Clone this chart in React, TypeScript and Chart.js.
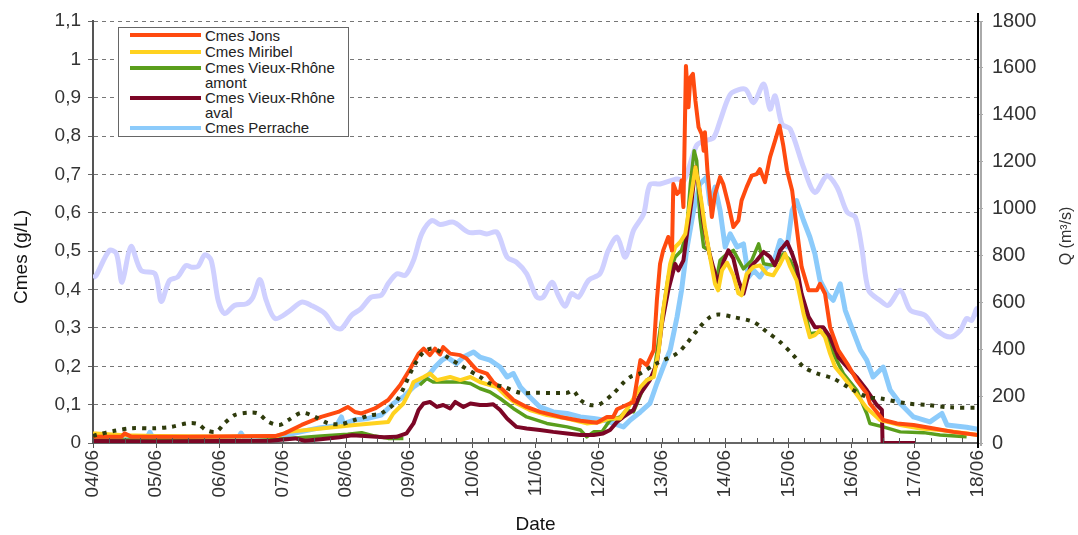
import React, { useEffect, useRef } from 'react';
import { Chart, registerables } from 'chart.js';

Chart.register(...registerables);

// ---------- DATA ----------
// x = days since 04/06 00:00
const xTickLabels = ['04/06', '05/06', '06/06', '07/06', '08/06', '09/06', '10/06', '11/06', '12/06', '13/06', '14/06', '15/06', '16/06', '17/06', '18/06'];
const yTickLabels = ['0', '0,1', '0,2', '0,3', '0,4', '0,5', '0,6', '0,7', '0,8', '0,9', '1', '1,1'];
const yTickValues = [0, 0.1, 0.2, 0.3, 0.4, 0.5, 0.6, 0.7, 0.8, 0.9, 1.0, 1.1];
const qTickValues = [0, 200, 400, 600, 800, 1000, 1200, 1400, 1600, 1800];

const seriesNames = ['Cmes Jons', 'Cmes Miribel', 'Cmes Vieux-Rhône amont', 'Cmes Vieux-Rhône aval', 'Cmes Perrache'];

// Cmes Jons (g/L)
const cmesJons = [[0,0.016],[0.05,0.016],[0.45,0.016],[0.5,0.025],[0.61,0.016],[1.5,0.016],[2.88,0.018],[3.03,0.025],[3.3,0.047],[3.61,0.068],[3.88,0.081],[4.03,0.094],[4.14,0.081],[4.25,0.077],[4.46,0.09],[4.67,0.112],[4.86,0.151],[5.02,0.194],[5.15,0.233],[5.23,0.246],[5.33,0.229],[5.41,0.246],[5.49,0.231],[5.54,0.25],[5.65,0.233],[5.81,0.229],[5.91,0.22],[6.07,0.19],[6.23,0.181],[6.33,0.159],[6.49,0.138],[6.65,0.112],[6.86,0.094],[7.07,0.081],[7.39,0.068],[7.71,0.058],[7.97,0.053],[8.13,0.068],[8.23,0.068],[8.29,0.088],[8.44,0.099],[8.55,0.107],[8.66,0.216],[8.76,0.203],[8.87,0.242],[8.92,0.372],[8.97,0.467],[9.02,0.502],[9.1,0.537],[9.16,0.502],[9.18,0.675],[9.24,0.649],[9.29,0.658],[9.31,0.684],[9.34,0.615],[9.38,0.983],[9.42,0.875],[9.45,0.953],[9.49,0.962],[9.53,0.892],[9.58,0.823],[9.63,0.805],[9.66,0.762],[9.68,0.81],[9.72,0.71],[9.79,0.589],[9.84,0.649],[9.92,0.693],[9.97,0.675],[10.05,0.623],[10.13,0.563],[10.21,0.58],[10.26,0.632],[10.34,0.667],[10.42,0.697],[10.5,0.701],[10.55,0.714],[10.63,0.68],[10.71,0.745],[10.79,0.788],[10.86,0.827],[10.92,0.775],[10.98,0.71],[11.06,0.658],[11.13,0.563],[11.21,0.459],[11.32,0.398],[11.45,0.398],[11.5,0.415],[11.58,0.389],[11.66,0.302],[11.79,0.242],[11.93,0.207],[12.08,0.164],[12.24,0.129],[12.29,0.103],[12.5,0.06],[12.72,0.051],[12.98,0.047],[13.3,0.038],[13.61,0.029],[14,0.021]];

// Cmes Miribel (g/L)
const cmesMiribel = [[0,0.025],[0.05,0.025],[0.5,0.02],[1,0.018],[2,0.017],[2.9,0.018],[3.09,0.029],[3.61,0.038],[4.14,0.047],[4.67,0.055],[4.75,0.077],[4.91,0.103],[5.02,0.138],[5.07,0.159],[5.23,0.172],[5.33,0.181],[5.44,0.164],[5.65,0.172],[5.81,0.164],[5.97,0.172],[6.12,0.159],[6.28,0.151],[6.39,0.146],[6.55,0.12],[6.7,0.103],[6.91,0.086],[7.18,0.073],[7.5,0.064],[7.81,0.051],[8.02,0.055],[8.18,0.064],[8.34,0.064],[8.47,0.094],[8.66,0.146],[8.76,0.164],[8.87,0.172],[8.95,0.242],[9.02,0.346],[9.13,0.467],[9.21,0.511],[9.29,0.524],[9.37,0.545],[9.45,0.632],[9.53,0.719],[9.58,0.675],[9.63,0.623],[9.68,0.563],[9.76,0.485],[9.84,0.415],[9.89,0.398],[9.95,0.45],[10.03,0.47],[10.13,0.437],[10.21,0.39],[10.26,0.385],[10.34,0.441],[10.45,0.459],[10.55,0.463],[10.66,0.441],[10.76,0.437],[10.87,0.467],[10.95,0.493],[11.03,0.459],[11.13,0.424],[11.24,0.337],[11.34,0.276],[11.42,0.281],[11.5,0.294],[11.58,0.276],[11.66,0.233],[11.74,0.198],[11.87,0.172],[12.03,0.138],[12.24,0.091],[12.45,0.06],[12.77,0.047],[13.09,0.038],[13.4,0.034],[13.82,0.025],[14,0.021]];

// Cmes Vieux-Rhône amont (g/L) — null = missing data
const cmesVRAmont = [[0,0.008],[1.5,0.008],[2.56,0.006],[3.09,0.012],[3.61,0.018],[4.03,0.023],[4.25,0.027],[4.46,0.018],[4.67,0.012],[4.91,0.012],[4.95,null],[5.17,0.151],[5.28,0.168],[5.38,0.159],[5.6,0.159],[5.81,0.159],[5.97,0.155],[6.12,0.142],[6.28,0.133],[6.44,0.116],[6.65,0.09],[6.86,0.068],[7.18,0.051],[7.5,0.042],[7.71,0.034],[7.81,0.016],[7.92,0.029],[8.05,0.029],[8.18,0.06],[8.34,0.068],[8.44,0.086],[8.55,0.081],[8.76,0.164],[8.87,0.177],[8.97,0.294],[9.1,0.433],[9.21,0.485],[9.31,0.502],[9.39,0.55],[9.45,0.675],[9.51,0.762],[9.55,0.736],[9.6,0.589],[9.66,0.511],[9.74,0.502],[9.81,0.45],[9.87,0.433],[9.92,0.476],[10.03,0.493],[10.13,0.502],[10.29,0.454],[10.42,0.476],[10.53,0.519],[10.61,0.467],[10.76,0.463],[10.92,0.493],[11.03,0.476],[11.13,0.441],[11.24,0.363],[11.34,0.285],[11.5,0.289],[11.61,0.285],[11.71,0.233],[11.87,0.181],[12.08,0.138],[12.24,0.077],[12.29,0.051],[12.5,0.042],[12.77,0.029],[13.14,0.027],[13.4,0.021],[13.82,0.016]];

// Cmes Vieux-Rhône aval (g/L)
const cmesVRAval = [[0,0.005],[1,0.004],[2,0.005],[2.8,0.006],[3.2,0.012],[3.35,0.006],[3.6,0.01],[3.9,0.015],[4.1,0.02],[4.3,0.018],[4.6,0.015],[4.8,0.016],[4.96,0.025],[5.07,0.051],[5.15,0.086],[5.23,0.103],[5.33,0.107],[5.44,0.094],[5.54,0.099],[5.65,0.09],[5.73,0.107],[5.86,0.094],[5.97,0.103],[6.12,0.099],[6.23,0.099],[6.33,0.101],[6.44,0.086],[6.55,0.064],[6.7,0.042],[6.86,0.038],[7.07,0.034],[7.28,0.029],[7.5,0.025],[7.71,0.021],[7.92,0.021],[8.07,0.025],[8.18,0.034],[8.29,0.055],[8.39,0.068],[8.55,0.086],[8.66,0.129],[8.81,0.164],[8.92,0.207],[9.0,0.311],[9.1,0.398],[9.21,0.467],[9.26,0.45],[9.34,0.476],[9.39,0.537],[9.47,0.632],[9.53,0.719],[9.58,0.675],[9.66,0.571],[9.74,0.502],[9.81,0.459],[9.89,0.415],[9.97,0.471],[10.05,0.502],[10.13,0.481],[10.21,0.424],[10.29,0.389],[10.4,0.459],[10.5,0.476],[10.61,0.498],[10.71,0.485],[10.79,0.463],[10.87,0.502],[10.98,0.524],[11.06,0.493],[11.13,0.459],[11.21,0.389],[11.32,0.329],[11.42,0.302],[11.55,0.302],[11.66,0.276],[11.79,0.224],[11.93,0.198],[12.08,0.172],[12.24,0.138],[12.4,0.099],[12.48,0.086],[12.49,0],[13.01,0]];

// Cmes Perrache (g/L)
const cmesPerrache = [[0,0.01],[0.85,0.012],[0.9,0.028],[0.95,0.012],[2.3,0.012],[2.34,0.026],[2.4,0.012],[2.9,0.015],[3.3,0.03],[3.6,0.04],[3.85,0.045],[3.93,0.068],[3.96,0.05],[4.14,0.06],[4.35,0.064],[4.56,0.073],[4.75,0.103],[4.91,0.12],[5.07,0.146],[5.23,0.164],[5.33,0.181],[5.41,0.198],[5.52,0.216],[5.6,0.224],[5.75,0.207],[5.86,0.224],[6.02,0.237],[6.12,0.224],[6.28,0.216],[6.44,0.198],[6.55,0.172],[6.65,0.181],[6.76,0.146],[6.91,0.12],[7.07,0.094],[7.28,0.081],[7.5,0.077],[7.71,0.068],[7.92,0.064],[8.07,0.06],[8.23,0.051],[8.39,0.042],[8.5,0.06],[8.66,0.081],[8.81,0.103],[8.92,0.155],[9.02,0.198],[9.13,0.242],[9.24,0.329],[9.31,0.398],[9.39,0.502],[9.5,0.606],[9.6,0.675],[9.71,0.693],[9.76,0.623],[9.84,0.667],[9.92,0.606],[10.0,0.511],[10.08,0.545],[10.19,0.511],[10.29,0.519],[10.37,0.433],[10.45,0.45],[10.55,0.433],[10.66,0.459],[10.76,0.467],[10.87,0.528],[10.98,0.511],[11.06,0.606],[11.13,0.632],[11.24,0.58],[11.34,0.537],[11.42,0.493],[11.5,0.424],[11.61,0.389],[11.71,0.372],[11.82,0.415],[11.9,0.346],[12.0,0.302],[12.14,0.242],[12.24,0.216],[12.34,0.172],[12.5,0.198],[12.61,0.138],[12.77,0.103],[12.98,0.068],[13.24,0.055],[13.43,0.077],[13.51,0.047],[13.82,0.041],[14,0.036]];

// Discharge Q (m3/s), right axis — light lavender curve
const qMain = [[0,705],[0.05,715],[0.26,821],[0.37,808],[0.46,686],[0.6,838],[0.76,736],[0.98,722],[1.08,604],[1.21,694],[1.34,708],[1.47,757],[1.56,750],[1.66,753],[1.77,803],[1.87,779],[1.98,608],[2.08,552],[2.24,587],[2.43,594],[2.53,622],[2.64,697],[2.74,608],[2.88,531],[3.09,559],[3.3,601],[3.45,587],[3.67,552],[3.82,495],[3.93,488],[4.09,545],[4.24,573],[4.4,622],[4.56,630],[4.67,680],[4.81,722],[4.94,715],[5.07,779],[5.2,892],[5.36,949],[5.49,932],[5.7,942],[5.94,899],[6.12,899],[6.23,892],[6.39,899],[6.55,793],[6.7,771],[6.86,722],[7.02,622],[7.12,622],[7.26,686],[7.36,630],[7.47,583],[7.57,637],[7.68,622],[7.84,694],[8.02,722],[8.15,821],[8.29,878],[8.42,793],[8.55,906],[8.71,977],[8.81,1102],[8.97,1105],[9.24,1126],[9.35,1119],[9.55,1270],[9.7,1290],[9.82,1303],[9.92,1374],[10.03,1459],[10.11,1495],[10.32,1509],[10.45,1452],[10.61,1531],[10.71,1424],[10.79,1481],[10.9,1360],[11.03,1339],[11.24,1176],[11.42,1069],[11.61,1140],[11.77,1091],[11.93,984],[12.06,963],[12.16,835],[12.27,651],[12.45,608],[12.58,587],[12.77,651],[12.93,566],[13.16,545],[13.35,481],[13.56,452],[13.72,481],[13.82,531],[13.9,523],[13.98,573],[14,540]];

// Discharge Q (m3/s), right axis — dark dotted curve
const qSecond = [[0,30],[0.05,34],[0.34,52],[0.61,63],[0.98,63],[1.24,69],[1.5,84],[1.66,81],[1.79,55],[1.95,48],[2.08,84],[2.24,119],[2.45,129],[2.61,126],[2.77,91],[2.95,77],[3.09,98],[3.3,129],[3.51,112],[3.72,84],[3.93,81],[4.14,98],[4.4,119],[4.56,126],[4.81,183],[5.07,325],[5.23,388],[5.39,403],[5.6,367],[5.81,332],[6.12,282],[6.28,254],[6.49,240],[6.76,214],[7.02,214],[7.5,214],[7.6,223],[7.71,183],[7.86,162],[8.02,166],[8.23,211],[8.39,257],[8.5,282],[8.66,297],[8.89,336],[9.24,382],[9.39,424],[9.6,495],[9.76,537],[9.89,548],[10.13,537],[10.45,516],[10.66,474],[10.87,431],[11.08,374],[11.24,325],[11.45,297],[11.71,275],[11.98,233],[12.24,197],[12.45,190],[12.87,169],[13.19,162],[13.56,152],[14,150]];

// ---------- STYLE ----------
const FONT = '"Liberation Sans", Arial, Helvetica, sans-serif';
const colors = {
  jons: '#ff4a0f',
  miribel: '#ffd21f',
  amont: '#5a9e1c',
  aval: '#7c0626',
  perrache: '#8ccbfb',
  qMain: '#cfd0ff',
  qSecond: '#2f3b0c',
};

const toPts = (arr: (number | null)[][]) => arr.map(([x, y]) => ({ x: x as number, y }));

const decorPlugin = {
  id: 'decor',
  afterDraw(chart: any) {
    const { ctx, chartArea, scales } = chart;
    const xs = scales.x;
    ctx.save();
    // minor 6-hour ticks
    ctx.strokeStyle = '#555';
    ctx.lineWidth = 1;
    for (let i = 0; i <= 56; i++) {
      const px = Math.round(xs.getPixelForValue(i / 4)) + 0.5;
      ctx.beginPath();
      ctx.moveTo(px, chartArea.bottom - 5);
      ctx.lineTo(px, chartArea.bottom);
      ctx.stroke();
    }
    // right double line
    ctx.lineWidth = 2;
    ctx.strokeStyle = '#000';
    ctx.beginPath();
    ctx.moveTo(chartArea.right, chartArea.top - 8);
    ctx.lineTo(chartArea.right, chartArea.bottom + 5);
    ctx.stroke();
    ctx.strokeStyle = '#aaa';
    ctx.beginPath();
    ctx.moveTo(chartArea.right + 3, chartArea.top);
    ctx.lineTo(chartArea.right + 3, chartArea.bottom + 3);
    ctx.stroke();
    // axis titles
    ctx.fillStyle = '#111';
    ctx.textAlign = 'center';
    ctx.textBaseline = 'middle';
    ctx.font = `19px ${FONT}`;
    ctx.fillText('Date', (chartArea.left + chartArea.right) / 2, 525);
    ctx.save();
    ctx.translate(22, 257);
    ctx.rotate(-Math.PI / 2);
    ctx.fillText('Cmes (g/L)', 0, 0);
    ctx.restore();
    ctx.save();
    ctx.fillStyle = '#333';
    ctx.font = `16px ${FONT}`;
    ctx.translate(1067, 236);
    ctx.rotate(-Math.PI / 2);
    ctx.fillText('Q (m³/s)', 0, 0);
    ctx.restore();
    ctx.restore();
  },
};

const legendItems = [
  { lines: ['Cmes Jons'], color: colors.jons, top: -0.5 },
  { lines: ['Cmes Miribel'], color: colors.miribel, top: 16 },
  { lines: ['Cmes Vieux-Rhône', 'amont'], color: colors.amont, top: 32 },
  { lines: ['Cmes Vieux-Rhône', 'aval'], color: colors.aval, top: 62 },
  { lines: ['Cmes Perrache'], color: colors.perrache, top: 92 },
];

export default function App() {
  const canvasRef = useRef<HTMLCanvasElement | null>(null);

  useEffect(() => {
    const canvas = canvasRef.current;
    if (!canvas) return;
    const line = (label: string, data: any, color: string, width: number, order: number, axis: string, extra: any = {}) => ({
      label,
      data: toPts(data),
      borderColor: color,
      backgroundColor: color,
      borderWidth: width,
      pointRadius: 0,
      pointHoverRadius: 0,
      fill: false,
      tension: 0,
      spanGaps: false,
      order,
      yAxisID: axis,
      borderJoinStyle: 'round',
      borderCapStyle: 'butt',
      ...extra,
    });

    const chart = new Chart(canvas, {
      type: 'line',
      data: {
        datasets: [
          line(seriesNames[0], cmesJons, colors.jons, 4, 1, 'y'),
          line(seriesNames[1], cmesMiribel, colors.miribel, 4, 2, 'y'),
          line(seriesNames[3], cmesVRAval, colors.aval, 4, 3, 'y'),
          line(seriesNames[2], cmesVRAmont, colors.amont, 3.5, 4, 'y'),
          line('Q 2', qSecond, colors.qSecond, 4, 0, 'y1', { borderDash: [4, 6], tension: 0.3, borderCapStyle: 'butt' }),
          line(seriesNames[4], cmesPerrache, colors.perrache, 5, 6, 'y'),
          line('Q', qMain, colors.qMain, 5, 7, 'y1', { tension: 0.3 }),
        ],
      },
      options: {
        animation: false,
        responsive: false,
        maintainAspectRatio: false,
        events: [],
        layout: { padding: { top: 20, left: 0, right: 0, bottom: 0 } },
        plugins: { legend: { display: false }, tooltip: { enabled: false } },
        scales: {
          x: {
            type: 'linear',
            min: 0,
            max: xTickLabels.length - 1,
            afterFit: (s: any) => { s.height = 92; },
            afterBuildTicks: (s: any) => { s.ticks = xTickLabels.map((_, i) => ({ value: i })); },
            ticks: {
              autoSkip: false,
              minRotation: 90,
              maxRotation: 90,
              padding: 2,
              color: '#333',
              font: { family: FONT, size: 19 },
              callback: (_v: any, i: number) => xTickLabels[i],
            },
            grid: { drawOnChartArea: false, drawTicks: true, tickLength: 5, tickColor: '#555', tickWidth: 1 },
            border: { display: true, color: '#666', width: 2 },
          },
          y: {
            type: 'linear',
            position: 'left',
            min: 0,
            max: 1.1,
            afterFit: (s: any) => { s.width = 93; },
            afterBuildTicks: (s: any) => { s.ticks = yTickValues.map((v) => ({ value: v })); },
            ticks: {
              autoSkip: false,
              padding: 7,
              color: '#333',
              font: { family: FONT, size: 19 },
              callback: (_v: any, i: number) => yTickLabels[i],
            },
            grid: {
              color: (ctx: any) => (ctx.index === 0 ? 'rgba(0,0,0,0)' : '#777'),
              lineWidth: 1,
              drawTicks: true,
              tickLength: 5,
              tickColor: '#666',
              tickWidth: 1,
            },
            border: { display: true, color: '#555', width: 2, dash: [4, 4] },
          },
          y1: {
            type: 'linear',
            position: 'right',
            min: 0,
            max: 1800,
            afterFit: (s: any) => { s.width = 100; },
            afterBuildTicks: (s: any) => { s.ticks = qTickValues.map((v) => ({ value: v })); },
            ticks: {
              autoSkip: false,
              padding: 9,
              color: '#333',
              font: { family: FONT, size: 20 },
              callback: (v: any) => String(v),
            },
            grid: { drawOnChartArea: false, drawTicks: true, tickLength: 5, tickColor: '#aaa', tickWidth: 1 },
            border: { display: false },
          },
        },
      },
      plugins: [decorPlugin],
    } as any);

    return () => chart.destroy();
  }, []);

  return (
    <div style={{ position: 'absolute', left: 0, top: 0, width: 1078, height: 535, background: '#fff', overflow: 'hidden' }}>
      <canvas ref={canvasRef} width={1078} height={535} style={{ display: 'block', width: 1078, height: 535 }} />
      <div
        style={{
          position: 'absolute',
          left: 118,
          top: 27,
          width: 231,
          height: 110,
          boxSizing: 'border-box',
          border: '1px solid #666',
          background: '#fff',
          fontFamily: FONT,
          fontSize: 15,
          color: '#222',
        }}
      >
        {legendItems.map((it, k) => (
          <div key={k} style={{ position: 'absolute', left: 0, top: it.top, width: 229 }}>
            <div style={{ position: 'absolute', left: 11, top: 5.5, width: 71, height: 4, background: it.color }} />
            <div style={{ position: 'absolute', left: 86, top: 0, lineHeight: '15px', whiteSpace: 'nowrap' }}>
              {it.lines.map((t, j) => (
                <div key={j}>{t}</div>
              ))}
            </div>
          </div>
        ))}
      </div>
    </div>
  );
}
